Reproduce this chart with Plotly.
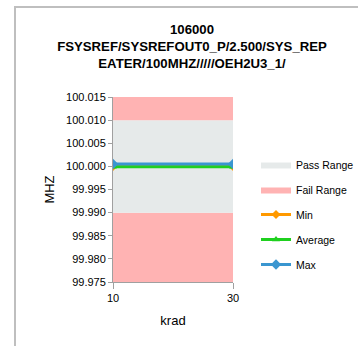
import plotly.graph_objects as go

krad = ["10", "30"]
min_vals = [100.0000, 100.0000]
avg_vals = [99.9999, 99.9999]
max_vals = [100.0005, 100.0005]
axis_bottom = [99.975, 99.975]
fail_low_top = [99.990, 99.990]
pass_top = [100.010, 100.010]
fail_high_top = [100.015, 100.015]
y_ticks = [99.975, 99.980, 99.985, 99.990, 99.995, 100.000, 100.005, 100.010, 100.015]
y_tick_text = ["99.975", "99.980", "99.985", "99.990", "99.995", "100.000", "100.005", "100.010", "100.015"]

FONT = "Liberation Sans"
RED = "#FFB3B3"
GREY = "#E6EAEA"

W, H = 358, 346
L, R, T, B = 113, 125, 97, 64
pw, ph = W - L - R, H - T - B

fig = go.Figure()
fig.add_trace(go.Scatter(x=krad, y=axis_bottom, mode="lines", line=dict(width=0),
                         showlegend=False, hoverinfo="skip", legendgroup="g0"))
fig.add_trace(go.Scatter(x=krad, y=fail_low_top, mode="lines", line=dict(width=0),
                         fill="tonexty", fillcolor=RED, showlegend=False, hoverinfo="skip",
                         legendgroup="g0"))
fig.add_trace(go.Scatter(x=krad, y=pass_top, mode="lines", line=dict(width=0),
                         fill="tonexty", fillcolor=GREY, name="Pass Range", legendgroup="g1"))
fig.add_trace(go.Scatter(x=krad, y=fail_high_top, mode="lines", line=dict(width=0),
                         fill="tonexty", fillcolor=RED, name="Fail Range", legendgroup="g2"))
fig.add_trace(go.Scatter(x=krad, y=min_vals, mode="lines+markers", name="Min",
                         line=dict(color="#FF9900", width=3), legendgroup="g3",
                         marker=dict(symbol="diamond", size=7, color="#FF9900")))
fig.add_trace(go.Scatter(x=krad, y=avg_vals, mode="lines+markers", name="Average",
                         line=dict(color="#1FD01F", width=3), legendgroup="g4",
                         marker=dict(symbol="triangle-up", size=7, color="#1FD01F")))
fig.add_trace(go.Scatter(x=krad, y=max_vals, mode="lines+markers", name="Max",
                         line=dict(color="#3A96D0", width=3), legendgroup="g5",
                         marker=dict(symbol="diamond", size=8, color="#3A96D0")))

fig.update_layout(
    width=W, height=H,
    margin=dict(l=L, r=R, t=T, b=B, autoexpand=False),
    paper_bgcolor="white", plot_bgcolor="white",
    font=dict(family=FONT, size=11, color="#000000"),
    title=dict(text="<b>106000<br>FSYSREF/SYSREFOUT0_P/2.500/SYS_REP<br>EATER/100MHZ/////OEH2U3_1/</b>",
               x=192 / W, xanchor="center", y=1 - 34 / H, yanchor="top",
               font=dict(family=FONT, size=13.2, color="#000000")),
    xaxis=dict(type="category", range=[0, 1], showgrid=False, zeroline=False,
               showline=True, linecolor="#A0A0A0", ticks="outside", ticklen=6,
               tickcolor="#A0A0A0", tickfont=dict(size=11),
               title=dict(text="krad", font=dict(size=13), standoff=12)),
    yaxis=dict(range=[99.975, 100.015], tickvals=y_ticks, ticktext=y_tick_text,
               showgrid=False, zeroline=False, showline=True, linecolor="#A0A0A0",
               ticks="outside", ticklen=4, tickcolor="#A0A0A0", tickfont=dict(size=11),
               title=dict(text="MHZ", font=dict(size=13), standoff=8)),
    legend=dict(x=(256 - L) / pw, xanchor="left", y=(282 - 150) / ph, yanchor="top",
                font=dict(size=10.5), tracegroupgap=6, itemwidth=30, traceorder="grouped",
                bgcolor="rgba(0,0,0,0)"),
    showlegend=True,
    shapes=[dict(type="rect", xref="paper", yref="paper",
                 x0=(15 - L) / pw, x1=(W + 20 - L) / pw,
                 y0=-(H - 282 + 20) / ph, y1=(282 - 7) / ph,
                 line=dict(color="#BFBFBF", width=2), fillcolor="rgba(0,0,0,0)", layer="below")],
)

fig.write_html("out.html", config={"displayModeBar": False},
               post_script="document.body.style.margin='0';")
